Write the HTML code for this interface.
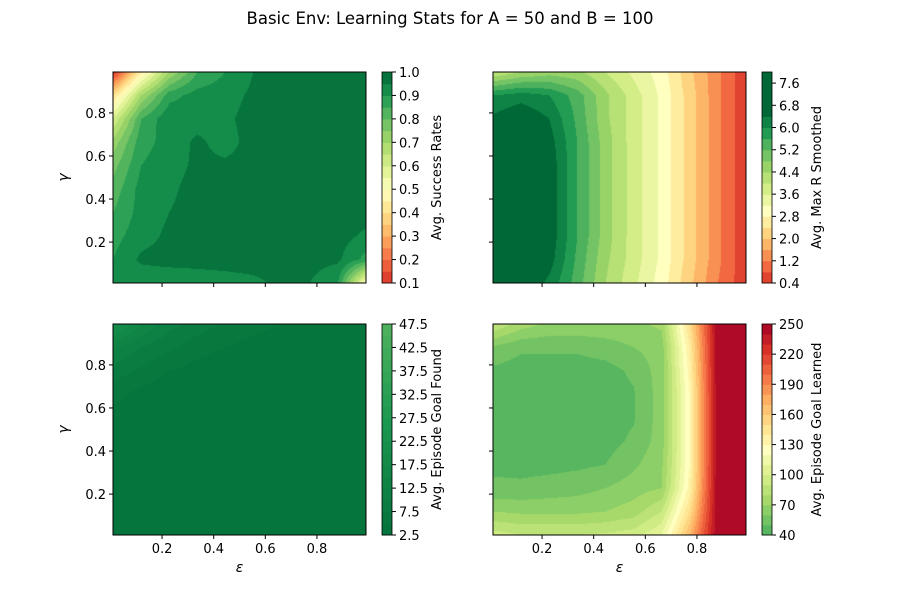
<!DOCTYPE html>
<html><head><meta charset="utf-8">
<style>
body{margin:0;background:#fff;width:900px;height:600px;overflow:hidden;position:relative;font-family:"DejaVu Sans","Liberation Sans",sans-serif}
canvas{position:absolute}
svg{position:absolute;left:0;top:0}
</style></head><body>
<div id="root"></div>
<svg id="ov" width="900" height="600"></svg>
<script>
const axisVals = [0.01,0.1189,0.2278,0.3367,0.4456,0.5544,0.6633,0.7722,0.8811,0.99];
// rows: gamma low -> high ; cols: epsilon low -> high
const successRates = [
[0.90,0.91,0.91,0.92,0.93,0.94,0.96,0.95,0.90,0.50],
[0.90,0.96,0.97,0.97,0.97,0.97,0.97,0.97,0.96,0.88],
[0.88,0.93,0.96,0.97,0.97,0.97,0.97,0.97,0.97,0.94],
[0.85,0.92,0.95,0.97,0.97,0.97,0.97,0.97,0.97,0.97],
[0.82,0.92,0.94,0.97,0.97,0.97,0.97,0.97,0.97,0.97],
[0.78,0.90,0.93,0.96,0.96,0.97,0.97,0.97,0.97,0.97],
[0.72,0.88,0.92,0.96,0.93,0.97,0.97,0.97,0.97,0.97],
[0.60,0.85,0.94,0.93,0.94,0.97,0.97,0.97,0.97,0.97],
[0.40,0.70,0.88,0.92,0.93,0.96,0.97,0.97,0.97,0.97],
[0.10,0.45,0.70,0.85,0.90,0.95,0.96,0.97,0.97,0.97]];
const maxRSmoothed = [
[6.8,6.8,6.3,5.4,4.4,3.7,3.0,2.1,1.2,0.5],
[7.0,7.0,6.6,5.5,4.5,3.8,3.1,2.2,1.3,0.5],
[7.0,7.0,6.7,5.6,4.6,3.8,3.1,2.2,1.3,0.5],
[7.0,7.0,6.7,5.6,4.6,3.8,3.1,2.2,1.3,0.5],
[7.0,7.0,6.7,5.6,4.6,3.8,3.1,2.2,1.3,0.5],
[7.0,7.0,6.7,5.6,4.6,3.8,3.1,2.2,1.3,0.5],
[6.9,7.0,6.6,5.6,4.6,3.8,3.1,2.2,1.3,0.5],
[6.5,6.8,6.4,5.5,4.5,3.8,3.1,2.2,1.3,0.5],
[6.0,6.2,6.0,5.4,4.5,3.8,3.1,2.2,1.3,0.5],
[4.0,4.4,4.6,4.5,4.0,3.5,3.0,2.1,1.3,0.5]];
const goalFound = [
[3,3,3,3,3,3,3,3,3,3],
[3,3,3,3,3,3,3,3,3,3],
[3,3,3,3,3,3,3,3,3,3],
[3,3,3,3,3,3,3,3,3,3],
[3,3,3,3,3,3,3,3,3,3],
[4,3,3,3,3,3,3,3,3,3],
[6,4,3,3,3,3,3,3,3,3],
[9,7,5,4,3,3,3,3,3,3],
[13,10,8,6,5,4,3,3,3,3],
[22,15,11,9,7,6,5,4,3,3]];
const goalLearned = [
[95,90,90,90,92,95,110,170,250,250],
[70,68,68,68,70,75,90,150,250,250],
[52,52,54,56,60,65,70,135,250,250],
[48,47,47,48,50,58,68,130,250,250],
[46,45,45,45,46,52,65,130,250,250],
[46,45,45,45,45,49,65,130,250,250],
[46,45,45,45,45,49,65,130,250,250],
[48,45,45,45,46,52,65,135,250,250],
[58,52,52,52,55,60,65,140,250,250],
[90,75,68,68,68,68,72,150,250,250]];
const xTicks = [0.2,0.4,0.6,0.8];
const yTicks = [0.2,0.4,0.6,0.8];
const cbTicks1 = [0.1,0.2,0.3,0.4,0.5,0.6,0.7,0.8,0.9,1.0];
const cbTicks2 = [0.4,1.2,2.0,2.8,3.6,4.4,5.2,6.0,6.8,7.6];
const cbTicks3 = [2.5,7.5,12.5,17.5,22.5,27.5,32.5,37.5,42.5,47.5];
const cbTicks4 = [40,70,100,130,160,190,220,250];

const stops=["#a50026","#d73027","#f46d43","#fdae61","#fee08b","#ffffbf","#d9ef8b","#a6d96a","#66bd63","#1a9850","#006837"];
const stopRGB=stops.map(h=>[1,3,5].map(i=>parseInt(h.substr(i,2),16)));
function rdylgn(t){t=Math.max(0,Math.min(1,t));const s=t*10,i=Math.min(9,Math.floor(s)),f=s-i;
 const a=stopRGB[i],b=stopRGB[i+1];return [0,1,2].map(k=>Math.round(a[k]+(b[k]-a[k])*f));}
const NS="http://www.w3.org/2000/svg";
const ov=document.getElementById('ov');
function el(tag,attrs,parent){const e=document.createElementNS(NS,tag);for(const k in attrs)e.setAttribute(k,attrs[k]);(parent||ov).appendChild(e);return e;}
function txt(s,x,y,anchor,size,parent,rot){const t=el('text',{x:x,y:y,'text-anchor':anchor,'font-size':size,fill:'#000'},parent);if(rot)t.setAttribute('transform',`rotate(-90 ${x} ${y})`);t.textContent=s;return t;}

const W=253,H=211;
function interp(grid,e,g){
 const step=0.98/9;let fi=(e-0.01)/step,fj=(g-0.01)/step;
 fi=Math.max(0,Math.min(8.9999,fi));fj=Math.max(0,Math.min(8.9999,fj));
 const i=Math.floor(fi),j=Math.floor(fj),a=fi-i,b=fj-j;
 return grid[j][i]*(1-a)*(1-b)+grid[j][i+1]*a*(1-b)+grid[j+1][i]*(1-a)*b+grid[j+1][i+1]*a*b;}

function panel(cfg){
 const {x0,y0,grid,lo,hi,step,tmap,name,cbTicks,label,fmt,showXLab,showYLab}=cfg;
 const g=el('g',{});
 
 
 const c=document.createElement('canvas');c.width=W;c.height=H;c.style.left=x0+'px';c.style.top=y0+'px';
 
 
 document.getElementById('root').appendChild(c);
 const ctx=c.getContext('2d');const img=ctx.createImageData(W,H);
 const nb=Math.round((hi-lo)/step);
 for(let py=0;py<H;py++)for(let px=0;px<W;px++){
  const e=0.01+(px+0.5)/W*0.98,gm=0.99-(py+0.5)/H*0.98;
  let v=interp(grid,e,gm);let b=Math.floor((v-lo)/step);b=Math.max(0,Math.min(nb-1,b));
  const col=rdylgn(tmap((b+0.5)/nb));const o=(py*W+px)*4;
  img.data[o]=col[0];img.data[o+1]=col[1];img.data[o+2]=col[2];img.data[o+3]=255;}
 ctx.putImageData(img,0,0);
 el('rect',{x:x0,y:y0,width:W,height:H,fill:'none',stroke:'#000','stroke-width':1},g);
 const sx=v=>x0+(v-0.01)/0.98*W, sy=v=>y0+H-(v-0.01)/0.98*H;
 xTicks.forEach(v=>{const x=sx(v);el('line',{x1:x,y1:y0+H,x2:x,y2:y0+H+4,stroke:'#000'},g);
  if(showXLab)txt(v.toFixed(1),x,y0+H+18,'middle',13,g);});
 yTicks.forEach(v=>{const y=sy(v);el('line',{x1:x0,y1:y,x2:x0-4,y2:y,stroke:'#000'},g);
  if(showYLab)txt(v.toFixed(1),x0-7,y+5,'end',13,g);});
 if(showXLab)txt('ε',x0+W/2,y0+H+37,'middle',14,g).setAttribute('font-style','italic');
 if(showYLab)txt('γ',x0-45,y0+H/2,'middle',14,g,true).setAttribute('font-style','italic');
 // colorbar
 const cx=x0+269,cw=10;
 const cb=el('g',{},g);
 
 
 for(let b=0;b<nb;b++){const col=rdylgn(tmap((b+0.5)/nb));
  const yA=y0+H-(b+1)/nb*H,yB=y0+H-b/nb*H;
  el('rect',{x:cx,y:yA,width:cw,height:yB-yA+0.5,fill:`rgb(${col})`},cb);}
 el('rect',{x:cx,y:y0,width:cw,height:H,fill:'none',stroke:'#000','stroke-width':0.8},cb);
 cbTicks.forEach(v=>{const y=y0+H-(v-lo)/(hi-lo)*H;el('line',{x1:cx+cw,y1:y,x2:cx+cw+4,y2:y,stroke:'#000'},cb);
  txt(fmt(v),cx+cw+7,y+5,'start',13,cb);});
 txt(label,cx+cw+49,y0+H/2,'middle',13,cb,true);
}
txt('Basic Env: Learning Stats for A = 50 and B = 100',450,24,'middle',16.5);
panel({x0:113,y0:72,grid:successRates,lo:0.1,hi:1.0,step:0.05,tmap:t=>0.1+t*0.9,name:'success-rate-panel',cbTicks:cbTicks1,label:'Avg. Success Rates',fmt:v=>v.toFixed(1),showXLab:false,showYLab:true});
panel({x0:493,y0:72,grid:maxRSmoothed,lo:0.4,hi:8.0,step:0.4,tmap:t=>{const v=0.4+t*7.6;return v<3.0?0.1+(v-0.4)/2.6*0.4:Math.min(1,0.5+(v-3.0)/3.6*0.5);},name:'max-r-panel',cbTicks:cbTicks2,label:'Avg. Max R Smoothed',fmt:v=>v.toFixed(1),showXLab:false,showYLab:false});
panel({x0:113,y0:324,grid:goalFound,lo:2.5,hi:47.5,step:2.5,tmap:t=>0.98-t*0.15,name:'goal-found-panel',cbTicks:cbTicks3,label:'Avg. Episode Goal Found',fmt:v=>v.toFixed(1),showXLab:true,showYLab:true});
panel({x0:493,y0:324,grid:goalLearned,lo:40,hi:250,step:10,tmap:t=>0.84-t*0.84,name:'goal-learned-panel',cbTicks:cbTicks4,label:'Avg. Episode Goal Learned',fmt:v=>String(v),showXLab:true,showYLab:false});
</script>
</body></html>
